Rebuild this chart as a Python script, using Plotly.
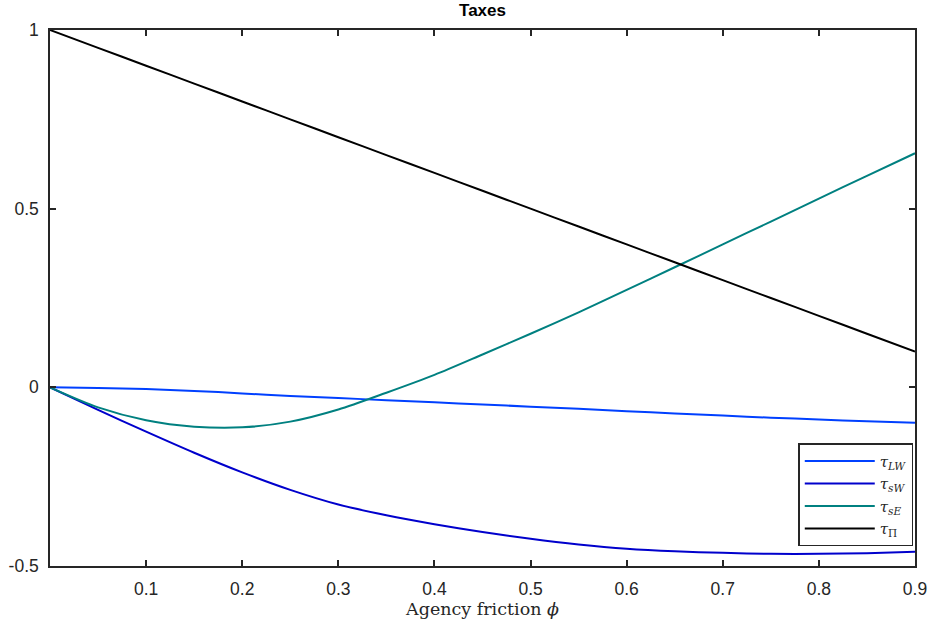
import plotly.graph_objects as go

phi = [0.0, 0.05, 0.1, 0.15, 0.2, 0.25, 0.3, 0.35, 0.4, 0.45, 0.5, 0.55, 0.6, 0.65, 0.7, 0.75, 0.8, 0.85, 0.9]
tau_LW = [0.0, -0.002, -0.005, -0.010, -0.017, -0.024, -0.030, -0.036, -0.042, -0.048, -0.054, -0.060, -0.067, -0.073, -0.079, -0.085, -0.090, -0.095, -0.099]
tau_sW = [0.0, -0.063, -0.124, -0.183, -0.238, -0.287, -0.328, -0.358, -0.383, -0.405, -0.424, -0.440, -0.452, -0.459, -0.463, -0.466, -0.466, -0.464, -0.460]
tau_sE = [0.0, -0.056, -0.092, -0.110, -0.112, -0.096, -0.062, -0.015, 0.035, 0.092, 0.150, 0.210, 0.273, 0.336, 0.400, 0.464, 0.528, 0.592, 0.655]
tau_Pi = [1.0, 0.95, 0.90, 0.85, 0.80, 0.75, 0.70, 0.65, 0.60, 0.55, 0.50, 0.45, 0.40, 0.35, 0.30, 0.25, 0.20, 0.15, 0.10]

x_ticks = [0.1, 0.2, 0.3, 0.4, 0.5, 0.6, 0.7, 0.8, 0.9]
y_ticks = [-0.5, 0, 0.5, 1]
y_ticklabels = ["-0.5", "0", "0.5", "1"]

series = [
    ("<i>τ</i><sub><i>LW</i></sub>", tau_LW, "#0040FF"),
    ("<i>τ</i><sub><i>sW</i></sub>", tau_sW, "#0000CC"),
    ("<i>τ</i><sub><i>sE</i></sub>", tau_sE, "#008080"),
    ("<i>τ</i><sub>Π</sub>", tau_Pi, "#000000"),
]

fig = go.Figure()
for name, vals, col in series:
    fig.add_trace(go.Scatter(x=phi, y=vals, mode="lines", name=name,
                             line=dict(color=col, width=2, shape="spline", smoothing=0.8)))

axis_common = dict(showline=True, linecolor="#262626", linewidth=1.5, mirror="allticks",
                   ticks="inside", ticklen=6, tickwidth=1.5, tickcolor="#262626",
                   showgrid=False, zeroline=False, automargin=False,
                   ticklabelstandoff=6,
                   tickfont=dict(family="Liberation Sans, Arial, sans-serif", size=17.5, color="#262626"))

fig.update_xaxes(range=[0, 0.9], tickvals=x_ticks, ticktext=[str(t) for t in x_ticks],
                 title=dict(text="Agency friction <i>ϕ</i>",
                            font=dict(family="DejaVu Serif, serif", size=17.5, color="#262626"),
                            standoff=2),
                 **axis_common)
fig.update_yaxes(range=[-0.5, 1], tickvals=y_ticks, ticktext=y_ticklabels, **axis_common)

fig.update_layout(
    width=930, height=623,
    margin=dict(l=50, r=15, t=30, b=57),
    paper_bgcolor="white", plot_bgcolor="white",
    title=dict(text="<b>Taxes</b>", x=0.5, xanchor="center", xref="paper", y=0.994, yanchor="top",
               font=dict(family="Liberation Sans, Arial, sans-serif", size=17, color="black")),
    showlegend=True,
    legend=dict(x=0.998, y=0.037, xanchor="right", yanchor="bottom",
                bgcolor="white", bordercolor="#262626", borderwidth=1.5,
                font=dict(family="DejaVu Serif, serif", size=15, color="#262626"),
                itemwidth=70, tracegroupgap=0),
)

fig.write_html("out.html")
